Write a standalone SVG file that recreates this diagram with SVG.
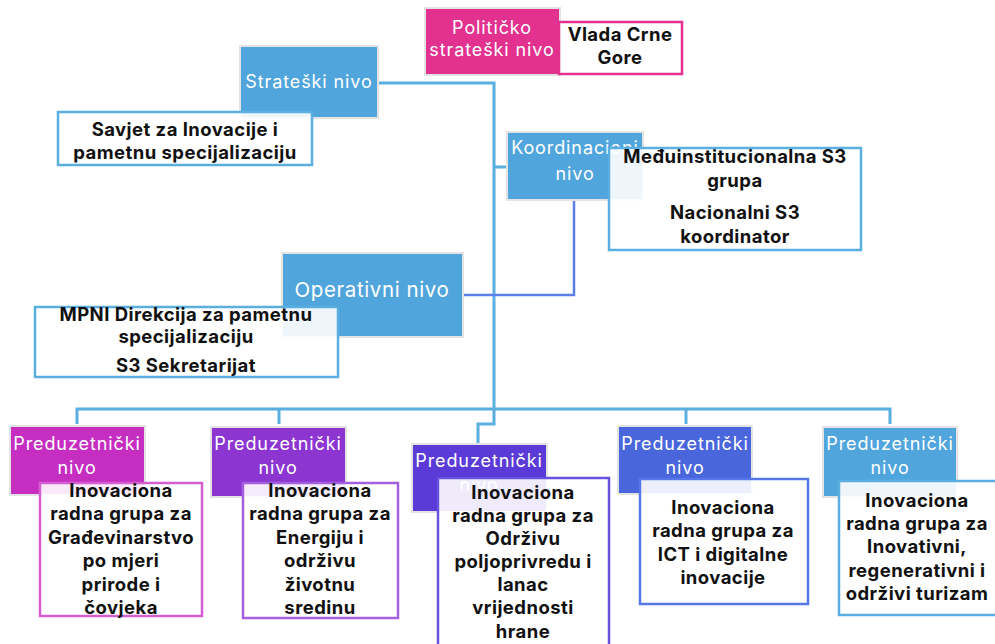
<svg xmlns="http://www.w3.org/2000/svg" width="995" height="644" viewBox="0 0 995 644">
<style>
.lvl{stroke:#e3e3e3;stroke-width:2}
.lbl{font-family:Inter,"Open Sans","Liberation Sans",Arial,sans-serif;font-size:18px;letter-spacing:0.9px;fill:#fff;text-anchor:middle}
.box{fill:#fff;fill-opacity:0.9;stroke-width:2.5}
.txt{font-family:Inter,"Open Sans","Liberation Sans",Arial,sans-serif;font-size:18.5px;letter-spacing:0.45px;font-weight:bold;fill:#111;text-anchor:middle}
.con{fill:none;stroke:#5aaee0;stroke-width:3}
</style>
<rect width="995" height="644" fill="#fff"/>
<g id="connectors">
<path class="con" d="M378 83 H494 V409"/>
<path class="con" d="M494 167 H508"/>
<path class="con" d="M77 424 V409 H890 V424"/>
<path class="con" d="M279 409 V424"/>
<path class="con" d="M686 409 V424"/>
<path class="con" d="M494 409 V424 H478 V443"/>
<path fill="none" stroke="#5b7fe6" stroke-width="2.5" d="M574 200 V295 H463"/>
</g>
<g id="politicko">
<rect class="lvl" x="425" y="8" width="135" height="67" fill="#e2318f"/>
<text class="lbl" x="492" y="34">Političko</text>
<text class="lbl" x="492" y="56">strateški nivo</text>
</g>
<g id="vlada">
<rect class="box" x="559" y="22" width="123" height="52" stroke="#e2318f"/>
<text class="txt" x="620" y="41">Vlada Crne</text>
<text class="txt" x="620" y="64">Gore</text>
</g>
<g id="strateski">
<rect class="lvl" x="240" y="46" width="138" height="72" fill="#50a5dc"/>
<text class="lbl" x="309" y="88">Strateški nivo</text>
</g>
<g id="savjet">
<rect class="box" x="58" y="112" width="254" height="53" stroke="#5aaee0"/>
<text class="txt" x="185" y="136">Savjet za Inovacije i</text>
<text class="txt" x="185" y="159">pametnu specijalizaciju</text>
</g>
<g id="koordinacioni">
<rect class="lvl" x="507" y="132" width="136" height="68" fill="#50a5dc"/>
<text class="lbl" x="575" y="154">Koordinacioni</text>
<text class="lbl" x="575" y="180">nivo</text>
</g>
<g id="meduinst">
<rect class="box" x="609" y="148" width="252" height="102" stroke="#5aaee0"/>
<text class="txt" x="735" y="163">Međuinstitucionalna S3</text>
<text class="txt" x="735" y="187">grupa</text>
<text class="txt" x="735" y="219">Nacionalni S3</text>
<text class="txt" x="735" y="243">koordinator</text>
</g>
<g id="operativni">
<rect class="lvl" x="282" y="253" width="181" height="84" fill="#50a5dc"/>
<text class="lbl" x="372" y="297" style="font-size:20.5px;letter-spacing:0.6px">Operativni nivo</text>
</g>
<g id="mpni">
<rect class="box" x="35" y="307" width="303" height="70" stroke="#5aaee0"/>
<text class="txt" x="186" y="321">MPNI Direkcija za pametnu</text>
<text class="txt" x="186" y="343">specijalizaciju</text>
<text class="txt" x="186" y="372">S3 Sekretarijat</text>
</g>
<g id="pred1">
<rect class="lvl" x="10" y="426" width="135" height="69" fill="#c62ec1"/>
<text class="lbl" x="77" y="450">Preduzetnički</text>
<text class="lbl" x="77" y="474">nivo</text>
<rect class="box" x="40" y="483" width="162" height="133" stroke="#d45fd2"/>
<text class="txt" x="121" y="497">Inovaciona</text>
<text class="txt" x="121" y="520">radna grupa za</text>
<text class="txt" x="121" y="544">Građevinarstvo</text>
<text class="txt" x="121" y="567">po mjeri</text>
<text class="txt" x="121" y="591">prirode i</text>
<text class="txt" x="121" y="614">čovjeka</text>
</g>
<g id="pred2">
<rect class="lvl" x="211" y="427" width="135" height="70" fill="#8c35d1"/>
<text class="lbl" x="278" y="450">Preduzetnički</text>
<text class="lbl" x="278" y="474">nivo</text>
<rect class="box" x="243" y="483" width="155" height="135" stroke="#a35fdf"/>
<text class="txt" x="320" y="497">Inovaciona</text>
<text class="txt" x="320" y="520">radna grupa za</text>
<text class="txt" x="320" y="544">Energiju i</text>
<text class="txt" x="320" y="567">održivu</text>
<text class="txt" x="320" y="591">životnu</text>
<text class="txt" x="320" y="614">sredinu</text>
</g>
<g id="pred3">
<rect class="lvl" x="412" y="444" width="135" height="68" fill="#5a3bd7"/>
<text class="lbl" x="479" y="467">Preduzetnički</text>
<text class="lbl" x="479" y="491">nivo</text>
<rect class="box" x="438" y="478" width="171" height="180" stroke="#6a52e0"/>
<text class="txt" x="523" y="499">Inovaciona</text>
<text class="txt" x="523" y="522">radna grupa za</text>
<text class="txt" x="523" y="545">Održivu</text>
<text class="txt" x="523" y="568">poljoprivredu i</text>
<text class="txt" x="523" y="591">lanac</text>
<text class="txt" x="523" y="614">vrijednosti</text>
<text class="txt" x="523" y="638">hrane</text>
</g>
<g id="pred4">
<rect class="lvl" x="618" y="426" width="134" height="68" fill="#4a66dc"/>
<text class="lbl" x="685" y="450">Preduzetnički</text>
<text class="lbl" x="685" y="474">nivo</text>
<rect class="box" x="640" y="479" width="168" height="125" stroke="#5577e8"/>
<text class="txt" x="723" y="514">Inovaciona</text>
<text class="txt" x="723" y="537">radna grupa za</text>
<text class="txt" x="723" y="561">ICT i digitalne</text>
<text class="txt" x="723" y="584">inovacije</text>
</g>
<g id="pred5">
<rect class="lvl" x="823" y="427" width="134" height="70" fill="#50a5dc"/>
<text class="lbl" x="890" y="450">Preduzetnički</text>
<text class="lbl" x="890" y="474">nivo</text>
<rect class="box" x="839" y="481" width="160" height="134" stroke="#5aaee0"/>
<text class="txt" x="917" y="507">Inovaciona</text>
<text class="txt" x="917" y="530">radna grupa za</text>
<text class="txt" x="917" y="553">Inovativni,</text>
<text class="txt" x="917" y="577">regenerativni i</text>
<text class="txt" x="917" y="600">održivi turizam</text>
</g>
</svg>
